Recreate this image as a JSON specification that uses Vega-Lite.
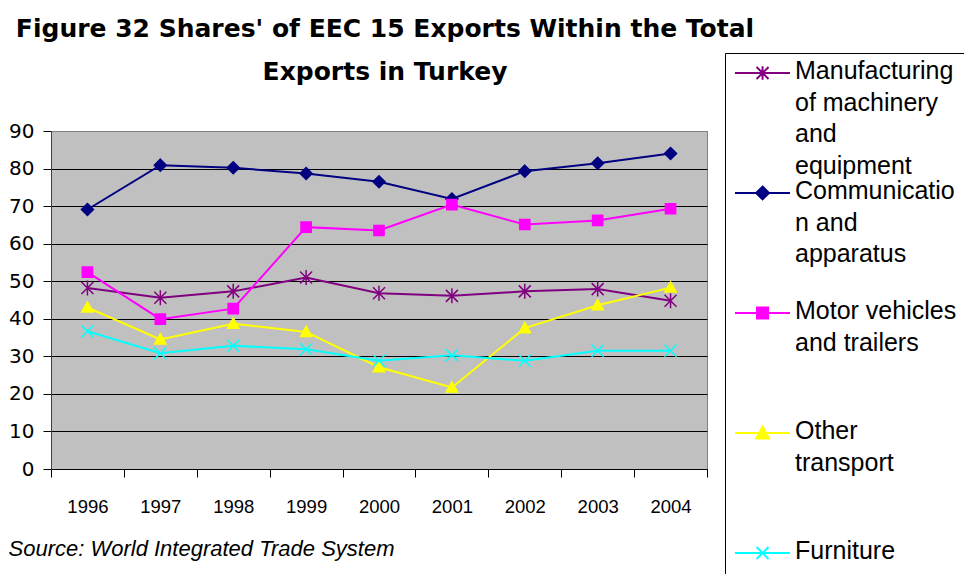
{
  "$schema": "https://vega.github.io/schema/vega-lite/v6.json",
  "autosize": {"type": "none"},
  "padding": {"left": 51, "top": 131, "right": 257, "bottom": 105},
  "width": 656,
  "height": 338,
  "background": "white",
  "title": {
    "text": ["Figure 32 Shares' of EEC 15 Exports Within the Total", "Exports in Turkey"],
    "font": "DejaVu Sans",
    "fontSize": 25,
    "fontWeight": "bold",
    "color": "black",
    "anchor": "middle",
    "frame": "group",
    "lineHeight": 43,
    "offset": -32,
    "dx": 6
  },
  "data": {
    "values": [
      {"year": "1996", "series": "Manufacturing of machinery and equipment", "value": 48.2},
      {"year": "1997", "series": "Manufacturing of machinery and equipment", "value": 45.6},
      {"year": "1998", "series": "Manufacturing of machinery and equipment", "value": 47.3},
      {"year": "1999", "series": "Manufacturing of machinery and equipment", "value": 51.0},
      {"year": "2000", "series": "Manufacturing of machinery and equipment", "value": 46.8},
      {"year": "2001", "series": "Manufacturing of machinery and equipment", "value": 46.1},
      {"year": "2002", "series": "Manufacturing of machinery and equipment", "value": 47.3},
      {"year": "2003", "series": "Manufacturing of machinery and equipment", "value": 47.9},
      {"year": "2004", "series": "Manufacturing of machinery and equipment", "value": 44.8},
      {"year": "1996", "series": "Communication and apparatus", "value": 69.1},
      {"year": "1997", "series": "Communication and apparatus", "value": 80.9},
      {"year": "1998", "series": "Communication and apparatus", "value": 80.2},
      {"year": "1999", "series": "Communication and apparatus", "value": 78.7},
      {"year": "2000", "series": "Communication and apparatus", "value": 76.5},
      {"year": "2001", "series": "Communication and apparatus", "value": 71.9},
      {"year": "2002", "series": "Communication and apparatus", "value": 79.3},
      {"year": "2003", "series": "Communication and apparatus", "value": 81.4},
      {"year": "2004", "series": "Communication and apparatus", "value": 84.0},
      {"year": "1996", "series": "Motor vehicles and trailers", "value": 52.4},
      {"year": "1997", "series": "Motor vehicles and trailers", "value": 39.9},
      {"year": "1998", "series": "Motor vehicles and trailers", "value": 42.7},
      {"year": "1999", "series": "Motor vehicles and trailers", "value": 64.4},
      {"year": "2000", "series": "Motor vehicles and trailers", "value": 63.5},
      {"year": "2001", "series": "Motor vehicles and trailers", "value": 70.4},
      {"year": "2002", "series": "Motor vehicles and trailers", "value": 65.1},
      {"year": "2003", "series": "Motor vehicles and trailers", "value": 66.2},
      {"year": "2004", "series": "Motor vehicles and trailers", "value": 69.3},
      {"year": "1996", "series": "Other transport", "value": 43.0},
      {"year": "1997", "series": "Other transport", "value": 34.5},
      {"year": "1998", "series": "Other transport", "value": 38.7},
      {"year": "1999", "series": "Other transport", "value": 36.5},
      {"year": "2000", "series": "Other transport", "value": 27.1},
      {"year": "2001", "series": "Other transport", "value": 21.7},
      {"year": "2002", "series": "Other transport", "value": 37.5},
      {"year": "2003", "series": "Other transport", "value": 43.6},
      {"year": "2004", "series": "Other transport", "value": 48.3},
      {"year": "1996", "series": "Furniture", "value": 36.7},
      {"year": "1997", "series": "Furniture", "value": 30.8},
      {"year": "1998", "series": "Furniture", "value": 32.8},
      {"year": "1999", "series": "Furniture", "value": 31.9},
      {"year": "2000", "series": "Furniture", "value": 28.8},
      {"year": "2001", "series": "Furniture", "value": 30.3},
      {"year": "2002", "series": "Furniture", "value": 28.8},
      {"year": "2003", "series": "Furniture", "value": 31.5},
      {"year": "2004", "series": "Furniture", "value": 31.5}
    ]
  },
  "encoding": {
    "x": {
      "field": "year",
      "type": "ordinal",
      "bandPosition": 0.5,
      "scale": {"type": "band", "paddingInner": 0, "paddingOuter": 0},
      "axis": {
        "labelAngle": 0,
        "tickBand": "extent",
        "ticks": true,
        "tickSize": 8,
        "tickColor": "black",
        "domainColor": "black",
        "labelPadding": 20,
        "labelFont": "Liberation Sans",
        "labelFontSize": 18.5,
        "labelColor": "black",
        "grid": false,
        "title": "Source: World Integrated Trade System",
        "titleAnchor": "start",
        "titleAlign": "left",
        "titleX": -43,
        "titleY": 86,
        "titleBaseline": "alphabetic",
        "titleFont": "Liberation Sans",
        "titleFontSize": 22,
        "titleFontStyle": "italic",
        "titleFontWeight": "normal",
        "titleColor": "black"
      }
    },
    "y": {
      "field": "value",
      "type": "quantitative",
      "scale": {"domain": [0, 90], "nice": false, "zero": true},
      "axis": {
        "values": [0, 10, 20, 30, 40, 50, 60, 70, 80, 90],
        "title": null,
        "grid": true,
        "gridColor": {"condition": {"test": "datum.value >= 90", "value": "#808080"}, "value": "black"},
        "gridWidth": 1,
        "gridOpacity": 1,
        "tickSize": 8,
        "tickColor": "black",
        "domainColor": "#404040",
        "labelFont": "DejaVu Sans",
        "labelFontSize": 20,
        "labelColor": "black",
        "labelPadding": 9,
        "labelFlush": false,
        "labelOverlap": false
      }
    }
  },
  "layer": [
    {
      "mark": {"type": "line", "strokeWidth": 2},
      "encoding": {
        "color": {
          "field": "series",
          "type": "nominal",
          "scale": {
            "domain": ["Manufacturing of machinery and equipment", "Communication and apparatus", "Motor vehicles and trailers", "Other transport", "Furniture"],
            "range": ["#800080", "#000080", "#FF00FF", "#FFFF00", "#00FFFF"]
          },
          "legend": {
            "orient": "none",
            "legendX": 674,
            "legendY": -78,
            "title": null,
            "strokeColor": "black",
            "fillColor": "white",
            "padding": 10,
            "symbolSize": 900,
            "symbolStrokeWidth": 2,
            "labelFont": "Liberation Sans",
            "labelFontSize": 25,
            "labelColor": "black",
            "labelLimit": 400,
            "labelBaseline": "alphabetic",
            "labelOffset": 28,
            "rowPadding": 0,
            "labelExpr": "datum.label === 'Manufacturing of machinery and equipment' ? ['Manufacturing', 'of machinery', 'and', 'equipment'] : datum.label === 'Communication and apparatus' ? ['Communicatio', 'n and', 'apparatus', ' '] : datum.label === 'Motor vehicles and trailers' ? ['Motor vehicles', 'and trailers', ' ', ' '] : datum.label === 'Other transport' ? ['Other', 'transport', ' ', ' '] : 'Furniture'",
            "encode": {
              "labels": {
                "update": {
                  "lineHeight": {"value": 31.5}
                }
              },
              "symbols": {
                "update": {
                  "shape": {"signal": "datum.value === 'Manufacturing of machinery and equipment' ? 'M-1.07,-0.4H2.6M0.37,-0.8L1.17,0M0.37,0L1.17,-0.8M0.77,-0.85V0.05' : datum.value === 'Communication and apparatus' ? 'M-1.07,-0.4H2.6M0.77,-0.83L1.2,-0.4L0.77,0.03L0.34,-0.4Z' : datum.value === 'Motor vehicles and trailers' ? 'M-1.07,-0.4H2.6M0.4,-0.77H1.14V-0.03H0.4Z' : datum.value === 'Other transport' ? 'M-1.07,-0.4H2.6M0.77,-0.83L1.2,-0.03L0.34,-0.03Z' : 'M-1.07,-0.4H2.6M0.37,-0.8L1.17,0M0.37,0L1.17,-0.8'"},
                  "fill": {"scale": "color", "field": "value"},
                  "stroke": {"scale": "color", "field": "value"},
                  "strokeWidth": {"value": 2},
                  "opacity": {"value": 1}
                }
              }
            }
          }
        }
      }
    },
    {
      "mark": {"type": "point", "filled": true, "opacity": 1, "size": 144, "strokeWidth": 1.5},
      "encoding": {
        "shape": {
          "field": "series",
          "type": "nominal",
          "scale": {
            "domain": ["Communication and apparatus", "Manufacturing of machinery and equipment", "Motor vehicles and trailers", "Other transport", "Furniture"],
            "range": ["M0,-1L1,0L0,1L-1,0Z", "M-1,-1L1,1M-1,1L1,-1M0,-1.25V1.25", "M-0.85,-0.85H0.85V0.85H-0.85Z", "M0,-0.95L0.95,0.75L-0.95,0.75Z", "M-1,-1L1,1M-1,1L1,-1"]
          },
          "legend": null
        },
        "fill": {
          "field": "series",
          "type": "nominal",
          "scale": {
            "domain": ["Manufacturing of machinery and equipment", "Communication and apparatus", "Motor vehicles and trailers", "Other transport", "Furniture"],
            "range": ["#800080", "#000080", "#FF00FF", "#FFFF00", "#00FFFF"]
          },
          "legend": null
        },
        "stroke": {
          "field": "series",
          "type": "nominal",
          "scale": {
            "domain": ["Manufacturing of machinery and equipment", "Communication and apparatus", "Motor vehicles and trailers", "Other transport", "Furniture"],
            "range": ["#800080", "#000080", "#FF00FF", "#FFFF00", "#00FFFF"]
          },
          "legend": null
        }
      }
    }
  ],
  "config": {
    "view": {"fill": "#C0C0C0", "stroke": "#808080", "strokeWidth": 1}
  }
}
